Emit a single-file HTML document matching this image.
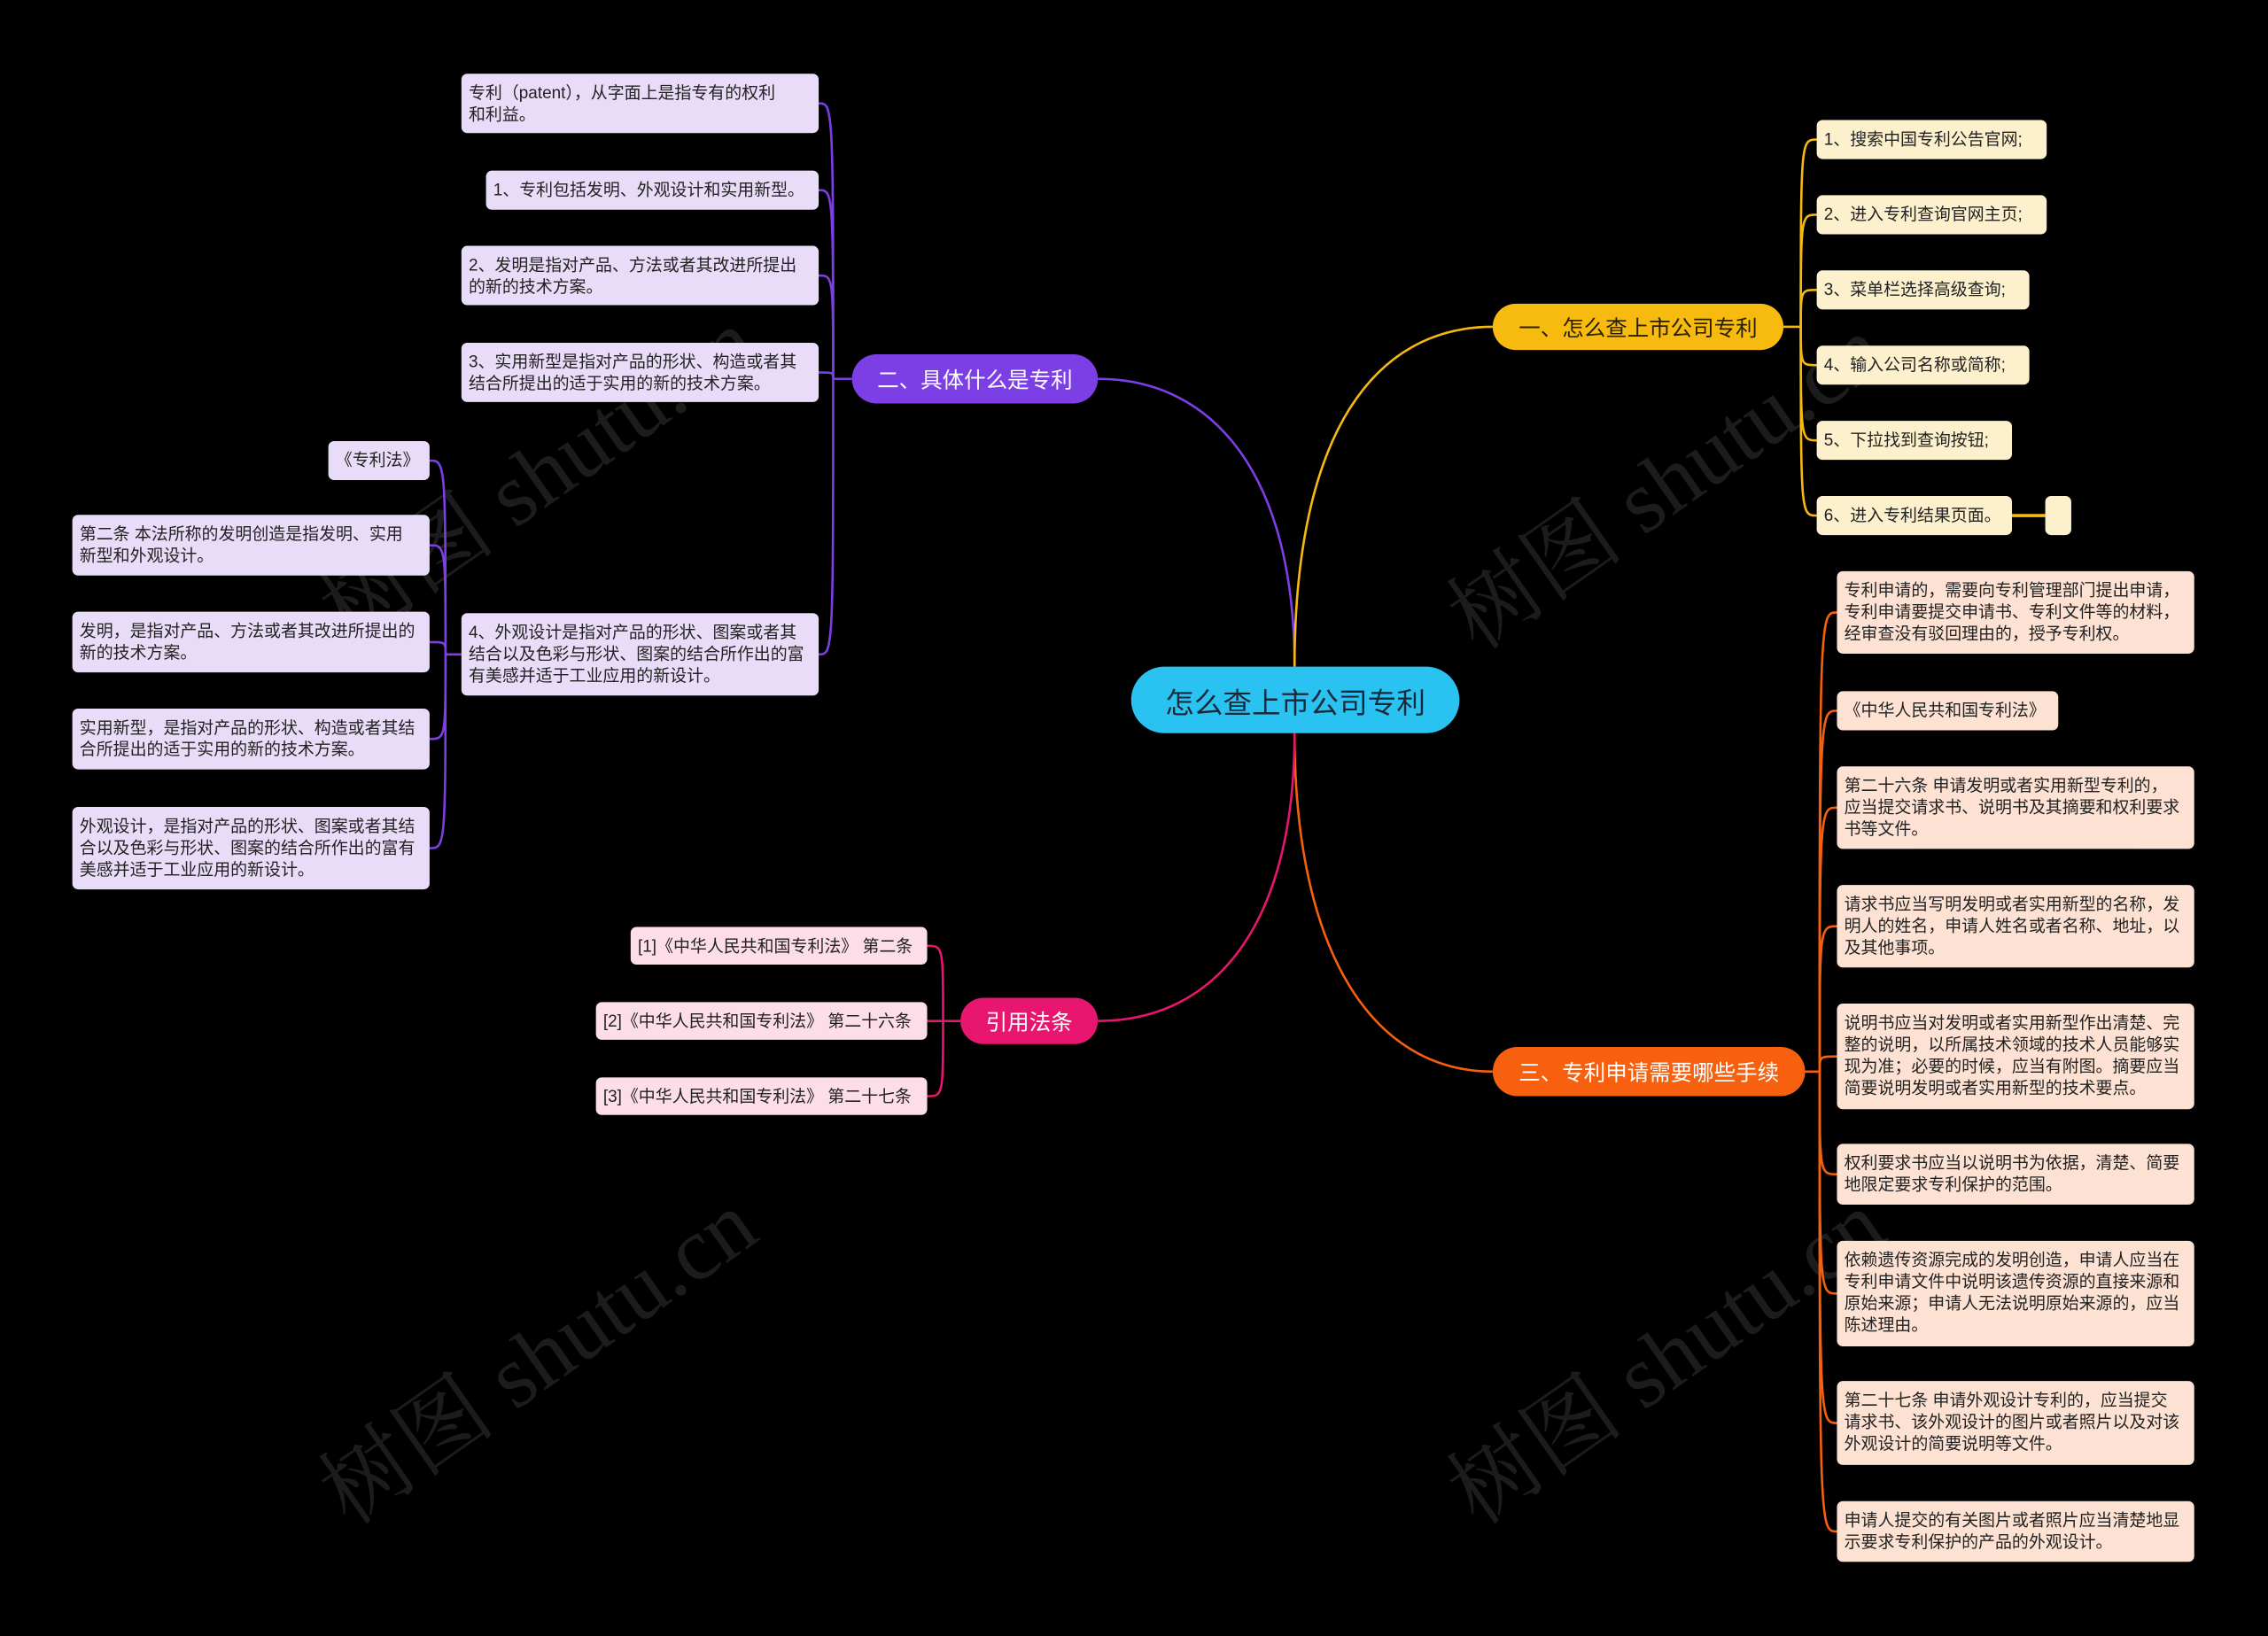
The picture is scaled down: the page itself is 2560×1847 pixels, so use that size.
<!DOCTYPE html>
<html><head><meta charset="utf-8">
<style>
html,body{margin:0;padding:0;background:#000;}
body{width:2560px;height:1847px;overflow:hidden;position:relative;}
#s{position:absolute;left:0;top:0;width:1568px;height:1131px;transform:scale(1.63265);transform-origin:0 0;font-family:"Liberation Sans","Noto Sans CJK SC",sans-serif;}
.b{position:absolute;box-sizing:border-box;border-radius:4px;font-size:11.6px;line-height:15px;padding:6px 5px;white-space:nowrap;color:#222;overflow:hidden;}
.y{background:#fdf0cc;}
.p{background:#e9dcf9;}
.o{background:#fde1d2;}
.k{background:#fcdde8;}
.m{position:absolute;box-sizing:border-box;display:flex;align-items:center;justify-content:center;white-space:nowrap;}
.wm{position:absolute;font-family:"Liberation Serif","Noto Serif CJK SC",serif;font-size:62px;color:#1c1c1c;transform:rotate(-35deg);white-space:nowrap;transform-origin:center;}
svg{position:absolute;left:0;top:0;}
</style></head><body><div id="s">
<div class="wm" style="left:195px;top:280px;">树图 shutu.cn</div>
<div class="wm" style="left:975px;top:285px;">树图 shutu.cn</div>
<div class="wm" style="left:195px;top:890px;">树图 shutu.cn</div>
<div class="wm" style="left:975px;top:890px;">树图 shutu.cn</div>
<svg width="1568" height="1131" fill="none" stroke-width="1.6">
<g stroke="#7b3fe4">
<path d="M895 461 C895 330 840 262 759 262"/>
<path d="M589 262 L576 262"/>
<path d="M576 262 C576 71.5 576 71.5 566 71.5"/>
<path d="M576 262 C576 131.5 576 131.5 566 131.5"/>
<path d="M576 262 C576 190.5 576 190.5 566 190.5"/>
<path d="M576 262 C576 257.5 576 257.5 566 257.5"/>
<path d="M576 262 C576 452.5 576 452.5 566 452.5"/>
<path d="M319 452.5 L308 452.5"/>
<path d="M308 452.5 C308 318.5 308 318.5 297 318.5"/>
<path d="M308 452.5 C308 377 308 377 297 377"/>
<path d="M308 452.5 C308 444 308 444 297 444"/>
<path d="M308 452.5 C308 511 308 511 297 511"/>
<path d="M308 452.5 C308 586.5 308 586.5 297 586.5"/>
</g>
<g stroke="#f5b90f">
<path d="M895 461 C895 300 950 226 1032 226"/>
<path d="M1233 226 L1245 226"/>
<path d="M1245 226 C1245 96.5 1245 96.5 1256 96.5"/>
<path d="M1245 226 C1245 148.5 1245 148.5 1256 148.5"/>
<path d="M1245 226 C1245 200.5 1245 200.5 1256 200.5"/>
<path d="M1245 226 C1245 252.5 1245 252.5 1256 252.5"/>
<path d="M1245 226 C1245 304.5 1245 304.5 1256 304.5"/>
<path d="M1245 226 C1245 356.5 1245 356.5 1256 356.5"/>
<path d="M1391 356.5 L1414 356.5" stroke-width="2.2"/>
</g>
<g stroke="#f5600f">
<path d="M895 507 C895 660 950 741 1032 741"/>
<path d="M1248 741 L1258 741"/>
<path d="M1258 741 C1258 423.5 1258 423.5 1270 423.5"/>
<path d="M1258 741 C1258 491.5 1258 491.5 1270 491.5"/>
<path d="M1258 741 C1258 558.5 1258 558.5 1270 558.5"/>
<path d="M1258 741 C1258 640.5 1258 640.5 1270 640.5"/>
<path d="M1258 741 C1258 730.5 1258 730.5 1270 730.5"/>
<path d="M1258 741 C1258 812 1258 812 1270 812"/>
<path d="M1258 741 C1258 894.5 1258 894.5 1270 894.5"/>
<path d="M1258 741 C1258 984 1258 984 1270 984"/>
<path d="M1258 741 C1258 1059 1258 1059 1270 1059"/>
</g>
<g stroke="#e8156e">
<path d="M895 507 C895 640 840 706 759 706"/>
<path d="M664 706 L652 706"/>
<path d="M652 706 C652 654 652 654 641 654"/>
<path d="M652 706 C652 706 652 706 641 706"/>
<path d="M652 706 C652 758 652 758 641 758"/>
</g>
</svg>

<div class="m" style="left:782px;top:461px;width:227px;height:46px;border-radius:23px;background:#2ac3f1;color:#1a2a3a;font-size:20px;">怎么查上市公司专利</div>
<div class="m" style="left:1032px;top:210px;width:201px;height:32px;border-radius:16px;background:#f7bb10;color:#2a2000;font-size:15px;">一、怎么查上市公司专利</div>
<div class="m" style="left:589px;top:245px;width:170px;height:34px;border-radius:17px;background:#7c3fe5;color:#fff;font-size:15px;">二、具体什么是专利</div>
<div class="m" style="left:1032px;top:724px;width:216px;height:34px;border-radius:17px;background:#f6600f;color:#fff;font-size:15px;">三、专利申请需要哪些手续</div>
<div class="m" style="left:664px;top:690px;width:95px;height:32px;border-radius:16px;background:#e8166f;color:#fff;font-size:15px;">引用法条</div>

<div class="b y" style="left:1256px;top:83px;width:159px;height:27px;">1、搜索中国专利公告官网;</div>
<div class="b y" style="left:1256px;top:135px;width:159px;height:27px;">2、进入专利查询官网主页;</div>
<div class="b y" style="left:1256px;top:187px;width:147px;height:27px;">3、菜单栏选择高级查询;</div>
<div class="b y" style="left:1256px;top:239px;width:147px;height:27px;">4、输入公司名称或简称;</div>
<div class="b y" style="left:1256px;top:291px;width:135px;height:27px;">5、下拉找到查询按钮;</div>
<div class="b y" style="left:1256px;top:343px;width:135px;height:27px;">6、进入专利结果页面。</div>
<div class="b y" style="left:1414px;top:343px;width:18px;height:27px;"></div>

<div class="b p" style="left:319px;top:51px;width:247px;height:41px;">专利（patent），从字面上是指专有的权利<br>和利益。</div>
<div class="b p" style="left:336px;top:118px;width:230px;height:27px;">1、专利包括发明、外观设计和实用新型。</div>
<div class="b p" style="left:319px;top:170px;width:247px;height:41px;">2、发明是指对产品、方法或者其改进所提出<br>的新的技术方案。</div>
<div class="b p" style="left:319px;top:237px;width:247px;height:41px;">3、实用新型是指对产品的形状、构造或者其<br>结合所提出的适于实用的新的技术方案。</div>
<div class="b p" style="left:319px;top:424px;width:247px;height:57px;">4、外观设计是指对产品的形状、图案或者其<br>结合以及色彩与形状、图案的结合所作出的富<br>有美感并适于工业应用的新设计。</div>

<div class="b p" style="left:227px;top:305px;width:70px;height:27px;">《专利法》</div>
<div class="b p" style="left:50px;top:356px;width:247px;height:42px;">第二条 本法所称的发明创造是指发明、实用<br>新型和外观设计。</div>
<div class="b p" style="left:50px;top:423px;width:247px;height:42px;">发明，是指对产品、方法或者其改进所提出的<br>新的技术方案。</div>
<div class="b p" style="left:50px;top:490px;width:247px;height:42px;">实用新型，是指对产品的形状、构造或者其结<br>合所提出的适于实用的新的技术方案。</div>
<div class="b p" style="left:50px;top:558px;width:247px;height:57px;">外观设计，是指对产品的形状、图案或者其结<br>合以及色彩与形状、图案的结合所作出的富有<br>美感并适于工业应用的新设计。</div>

<div class="b o" style="left:1270px;top:395px;width:247px;height:57px;">专利申请的，需要向专利管理部门提出申请，<br>专利申请要提交申请书、专利文件等的材料，<br>经审查没有驳回理由的，授予专利权。</div>
<div class="b o" style="left:1270px;top:478px;width:153px;height:27px;">《中华人民共和国专利法》</div>
<div class="b o" style="left:1270px;top:530px;width:247px;height:57px;">第二十六条 申请发明或者实用新型专利的，<br>应当提交请求书、说明书及其摘要和权利要求<br>书等文件。</div>
<div class="b o" style="left:1270px;top:612px;width:247px;height:57px;">请求书应当写明发明或者实用新型的名称，发<br>明人的姓名，申请人姓名或者名称、地址，以<br>及其他事项。</div>
<div class="b o" style="left:1270px;top:694px;width:247px;height:73px;">说明书应当对发明或者实用新型作出清楚、完<br>整的说明，以所属技术领域的技术人员能够实<br>现为准；必要的时候，应当有附图。摘要应当<br>简要说明发明或者实用新型的技术要点。</div>
<div class="b o" style="left:1270px;top:791px;width:247px;height:42px;">权利要求书应当以说明书为依据，清楚、简要<br>地限定要求专利保护的范围。</div>
<div class="b o" style="left:1270px;top:858px;width:247px;height:73px;">依赖遗传资源完成的发明创造，申请人应当在<br>专利申请文件中说明该遗传资源的直接来源和<br>原始来源；申请人无法说明原始来源的，应当<br>陈述理由。</div>
<div class="b o" style="left:1270px;top:955px;width:247px;height:58px;">第二十七条 申请外观设计专利的，应当提交<br>请求书、该外观设计的图片或者照片以及对该<br>外观设计的简要说明等文件。</div>
<div class="b o" style="left:1270px;top:1038px;width:247px;height:42px;">申请人提交的有关图片或者照片应当清楚地显<br>示要求专利保护的产品的外观设计。</div>

<div class="b k" style="left:436px;top:641px;width:205px;height:26px;">[1]《中华人民共和国专利法》 第二条</div>
<div class="b k" style="left:412px;top:693px;width:229px;height:26px;">[2]《中华人民共和国专利法》 第二十六条</div>
<div class="b k" style="left:412px;top:745px;width:229px;height:26px;">[3]《中华人民共和国专利法》 第二十七条</div>
</div></body></html>
